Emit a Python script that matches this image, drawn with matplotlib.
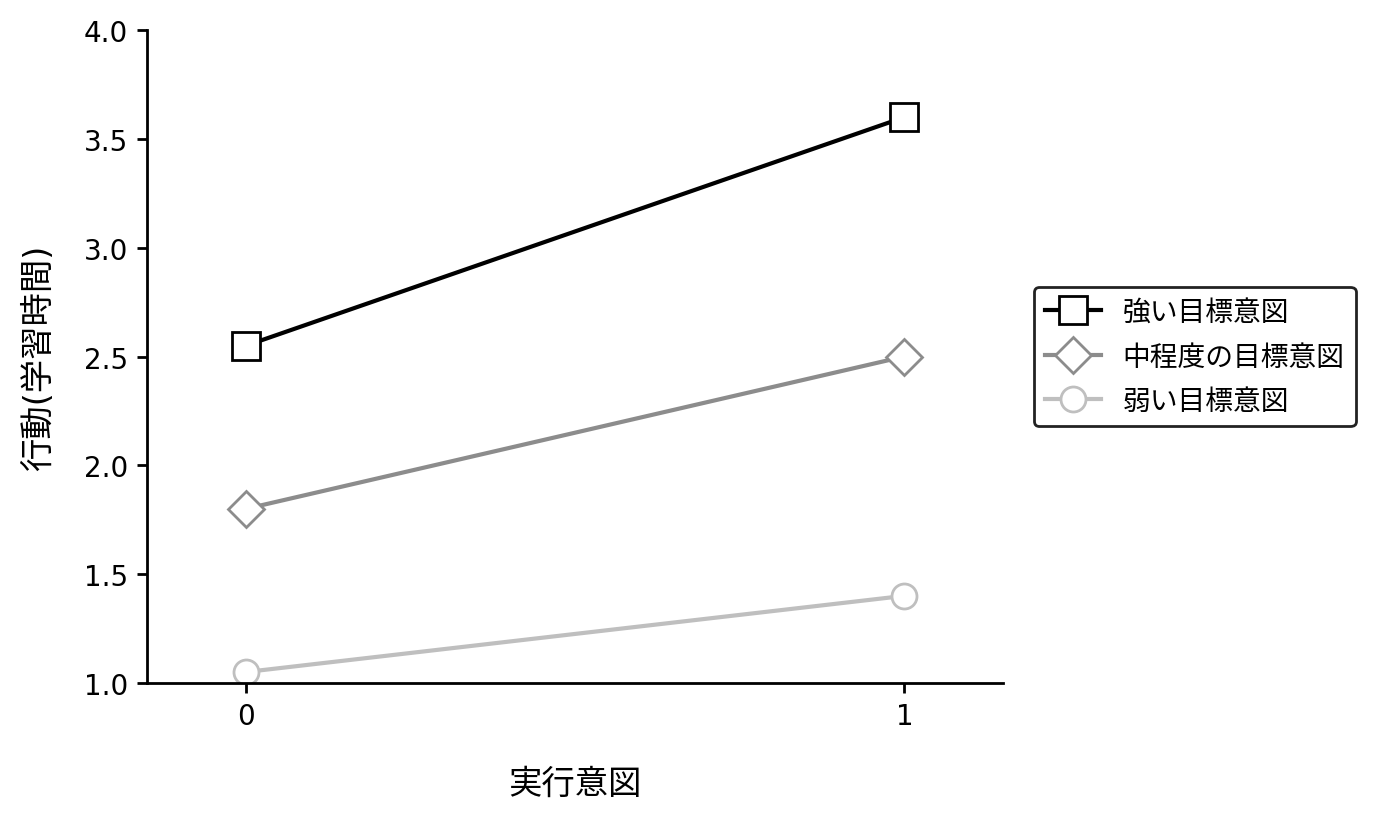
import matplotlib
matplotlib.use('Agg')
import matplotlib.pyplot as plt

plt.rcParams['font.family'] = ['DejaVu Sans', 'Noto Sans CJK JP']

# data
x_vals = [0, 1]
strong = [2.55, 3.6]
medium = [1.8, 2.5]
weak = [1.05, 1.4]
labels = ['強い目標意図', '中程度の目標意図', '弱い目標意図']

fig = plt.figure(figsize=(6.88, 4.1), dpi=200)
ax = fig.add_axes([0.107, 0.166, 0.622, 0.796])

ax.plot(x_vals, strong, marker='s', color='black', markerfacecolor='white',
        markersize=10, linewidth=1.5, label=labels[0])
ax.plot(x_vals, medium, marker='D', color='#8c8c8c', markerfacecolor='white',
        markersize=9, linewidth=1.5, label=labels[1])
ax.plot(x_vals, weak, marker='o', color='#bfbfbf', markerfacecolor='white',
        markersize=9, linewidth=1.5, label=labels[2])

ax.set_xlim(-0.15, 1.15)
ax.set_ylim(1.0, 4.0)
ax.set_xticks([0, 1])
ax.set_xlabel('実行意図', fontsize=12, labelpad=13)
ax.set_ylabel('行動(学習時間)', fontsize=12, labelpad=10)
ax.tick_params(labelsize=10, width=1.0)
ax.spines['top'].set_visible(False)
ax.spines['right'].set_visible(False)
for s in ['left', 'bottom']:
    ax.spines[s].set_linewidth(1.0)

leg = ax.legend(loc='center left', bbox_to_anchor=(1.036, 0.5), fontsize=10,
                borderaxespad=0, labelspacing=0.6,
                edgecolor='#222222', framealpha=1)

fig.savefig('out.png', dpi=200)
